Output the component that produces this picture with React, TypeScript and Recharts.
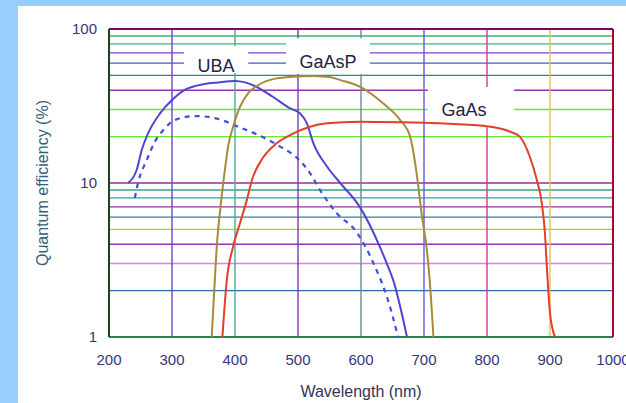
import { LineChart, Line, XAxis, YAxis, ReferenceLine, ReferenceArea, CartesianGrid } from "recharts";

// UBA photocathode (solid)
const ubaNm = [230, 244, 252, 262, 281, 300, 320, 352, 373, 400, 416, 432, 460, 487, 503, 514, 524, 546, 567, 598, 630, 641, 651, 673];
const ubaQe = [10, 12.2, 16.4, 21, 28.3, 34.6, 40.2, 44, 45, 46, 45, 42.5, 36.3, 30.6, 28.4, 24.5, 18.3, 12.8, 10, 7.0, 3.85, 3.0, 2.35, 1.0];

// standard bialkali (dashed)
const stdNm = [241, 246, 260, 273, 286, 305, 337, 368, 405, 437, 471, 498, 519, 535, 561, 593, 620, 641, 659];
const stdQe = [8, 10, 14.1, 18.6, 22, 25.7, 27.2, 26.4, 23.2, 20.5, 17.3, 14.6, 11.6, 9.0, 6.4, 4.8, 3.0, 1.83, 1.0];

const gaasPNm = [363, 368, 371, 376, 384, 389, 397, 408, 421, 437, 466, 493, 520, 546, 572, 598, 635, 662, 678, 686, 691, 696, 704, 709, 715];
const gaasPQe = [1.0, 2.35, 3.85, 6.4, 12.2, 17.2, 23.2, 31.3, 38.3, 43.3, 47.8, 49, 49.5, 49, 46, 42.2, 32.9, 25.7, 20, 13.4, 9.5, 6.4, 3.85, 2.35, 1.0];

const gaasNm = [380, 387, 397, 408, 419, 427, 442, 466, 493, 519, 546, 598, 662, 725, 794, 836, 852, 868, 879, 887, 892, 895, 900, 908];
const gaasQe = [1.0, 2.35, 3.85, 5.5, 7.8, 10.5, 14.1, 18.1, 21, 23.2, 24.4, 25, 24.8, 24.4, 23.5, 21.6, 20, 14.8, 10.5, 7.4, 4.7, 2.85, 1.43, 1.0];

const xTicks = [200, 300, 400, 500, 600, 700, 800, 900, 1000];
const yTicks = [1, 10, 100];
const gridX = [300, 400, 500, 600, 700, 800, 900];
const gridY = [2, 3, 4, 5, 6, 7, 8, 9, 10, 20, 30, 40, 50, 60, 70, 80, 90];

const gridXColors: Record<number, string> = {
  300: "#7040d0", 400: "#50a890", 500: "#8038b0", 600: "#708890",
  700: "#6858d8", 800: "#d03a9a", 900: "#e0c060",
};
const gridYColors: Record<number, string> = {
  2: "#2a6aa8", 3: "#e080e0", 4: "#8a3aa8", 5: "#88e800", 6: "#2a8a90",
  7: "#94349a", 8: "#30a0a0", 9: "#38a090", 10: "#94309a", 20: "#66e830",
  30: "#66e830", 40: "#8a38a8", 50: "#288a80", 60: "#4a58c8", 70: "#7a48c0",
  80: "#38b880", 90: "#38b870",
};

const toPoints = (nm: number[], qe: number[]) => nm.map((x, i) => ({ nm: x, qe: qe[i] }));

const labelStyle = { fill: "#222244", fontSize: 18 };

export default function App() {
  return (
    <div
      style={{
        position: "absolute",
        left: 0,
        top: 0,
        width: 626,
        height: 403,
        background: "#99ccff",
        fontFamily: "'Liberation Sans', Arial, sans-serif",
        overflow: "hidden",
      }}
    >
      <div style={{ position: "absolute", left: 18, top: 6, right: 0, bottom: 0, background: "#fff" }} />
      <div style={{ position: "absolute", left: 0, top: 0 }}>
        <LineChart width={626} height={403} margin={{ top: 29, right: 13, bottom: 11, left: 18 }}>
          {gridY.map((v) => (
            <CartesianGrid key={"h" + v} vertical={false} horizontalValues={[v]} stroke={gridYColors[v]} strokeWidth={1.4} />
          ))}
          {gridX.map((v) => (
            <CartesianGrid key={"v" + v} horizontal={false} verticalValues={[v]} stroke={gridXColors[v]} strokeWidth={1.4} />
          ))}
          <XAxis
            type="number"
            dataKey="nm"
            domain={[200, 1000]}
            ticks={xTicks}
            interval={0}
            allowDataOverflow
            axisLine={false}
            tickLine={false}
            tickSize={0}
            tickMargin={17}
            height={55}
            tick={{ fill: "#35357a", fontSize: 15 }}
            label={{ value: "Wavelength (nm)", position: "insideBottom", offset: -5, fill: "#333358", fontSize: 16 }}
          />
          <YAxis
            type="number"
            dataKey="qe"
            scale="log"
            domain={[1, 100]}
            ticks={yTicks}
            interval={0}
            allowDataOverflow
            axisLine={false}
            tickLine={false}
            tickSize={0}
            tickMargin={12}
            width={91}
            tick={{ fill: "#35357a", fontSize: 15 }}
            label={{
              value: "Quantum efficiency (%)",
              angle: -90,
              position: "insideLeft",
              offset: 24,
              fill: "#33607a",
              fontSize: 16,
              style: { textAnchor: "middle" },
            }}
          />

          <ReferenceArea x1={319} x2={421} y1={51.8} y2={77.6} fill="#fff" fillOpacity={1} stroke="none"
            label={{ value: "UBA", position: "center", dy: 6, ...labelStyle }} />
          <ReferenceArea x1={481} x2={614} y1={51} y2={87} fill="#fff" fillOpacity={1} stroke="none"
            label={{ value: "GaAsP", position: "center", dy: 5, ...labelStyle }} />
          <ReferenceArea x1={706} x2={843} y1={23} y2={42} fill="#fff" fillOpacity={1} stroke="none"
            label={{ value: "GaAs", position: "center", dx: -7, dy: 2, ...labelStyle }} />

          <ReferenceLine y={100} stroke="#800070" strokeWidth={2} />
          <ReferenceLine y={1} stroke="#208848" strokeWidth={2} />
          <ReferenceLine x={200} stroke="#204020" strokeWidth={2} />
          <ReferenceLine x={1000} stroke="#b00030" strokeWidth={2} />

          <Line data={toPoints(stdNm, stdQe)} dataKey="qe" type="monotone" stroke="#4050d8" strokeWidth={2.2}
            strokeDasharray="5 5" dot={false} isAnimationActive={false} />
          <Line data={toPoints(ubaNm, ubaQe)} dataKey="qe" type="monotone" stroke="#5044d0" strokeWidth={2}
            dot={false} isAnimationActive={false} />
          <Line data={toPoints(gaasPNm, gaasPQe)} dataKey="qe" type="monotone" stroke="#a88a3a" strokeWidth={2}
            dot={false} isAnimationActive={false} />
          <Line data={toPoints(gaasNm, gaasQe)} dataKey="qe" type="monotone" stroke="#e0402a" strokeWidth={2}
            dot={false} isAnimationActive={false} />
        </LineChart>
      </div>
    </div>
  );
}
